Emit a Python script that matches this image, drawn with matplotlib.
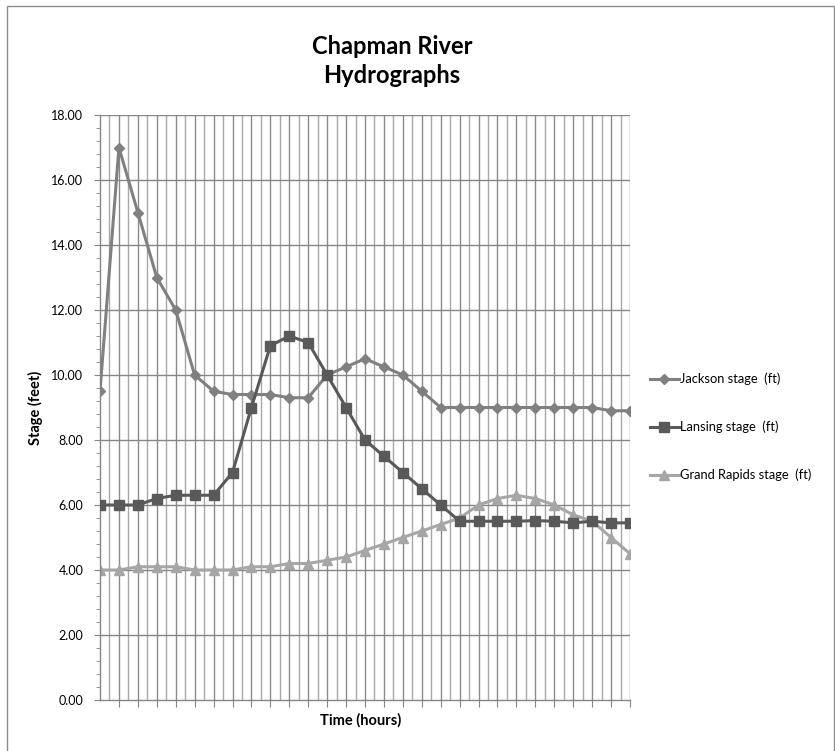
import matplotlib
matplotlib.use("Agg")
import matplotlib.pyplot as plt
from matplotlib.patches import Rectangle

# -------- DATA -------- #
hours = list(range(29))
jackson = [9.5, 17.0, 15.0, 13.0, 12.0, 10.0, 9.5, 9.4, 9.4, 9.4, 9.3, 9.3, 10.0, 10.25, 10.5,
           10.25, 10.0, 9.5, 9.0, 9.0, 9.0, 9.0, 9.0, 9.0, 9.0, 9.0, 9.0, 8.9, 8.9]
lansing = [6.0, 6.0, 6.0, 6.2, 6.3, 6.3, 6.3, 7.0, 9.0, 10.9, 11.2, 11.0, 10.0, 9.0, 8.0,
           7.5, 7.0, 6.5, 6.0, 5.5, 5.5, 5.5, 5.5, 5.52, 5.5, 5.45, 5.5, 5.45, 5.45]
grand_rapids = [4.0, 4.0, 4.1, 4.1, 4.1, 4.0, 4.0, 4.0, 4.1, 4.1, 4.2, 4.2, 4.3, 4.4, 4.6,
                4.8, 5.0, 5.2, 5.4, 5.6, 6.0, 6.2, 6.3, 6.2, 6.0, 5.7, 5.5, 5.0, 4.5]
labels = ["Jackson stage  (ft)", "Lansing stage  (ft)", "Grand Rapids stage  (ft)"]
y_ticks = [0, 2, 4, 6, 8, 10, 12, 14, 16, 18]

plt.rcParams['font.family'] = ['Lato', 'DejaVu Sans']

W, H = 835, 751
fig = plt.figure(figsize=(W / 100, H / 100), dpi=100)

# outer chart border
fig.patches.append(Rectangle((7 / W, -0.05), (834 - 7) / W, 1.05 - 6 / H,
                             transform=fig.transFigure, fill=False,
                             edgecolor="#8c8c8c", linewidth=1.0))

ax = fig.add_axes([100 / W, (H - 700) / H, (630 - 100) / W, (700 - 115) / H])

# -------- GRID -------- #
for i in range(1, 57):
    x = i * 0.5
    ax.axvline(x, color="#8a8a8a" if i % 2 == 0 else "#a8a8a8", linewidth=1.0, zorder=0)
for y in y_ticks[1:]:
    ax.axhline(y, color="#868686", linewidth=1.0, zorder=0)

# -------- SERIES -------- #
ax.plot(hours, jackson, color="#808080", linewidth=2.2, marker="D", markersize=5.5,
        label=labels[0], zorder=3)
ax.plot(hours, lansing, color="#595959", linewidth=2.2, marker="s", markersize=7.5,
        label=labels[1], zorder=4)
ax.plot(hours, grand_rapids, color="#a6a6a6", linewidth=2.2, marker="^", markersize=7,
        label=labels[2], zorder=2)

ax.set_xlim(0, 28)
ax.set_ylim(0, 18)

ax.set_yticks(y_ticks)
ax.set_yticklabels([f"{v:.2f}" for v in y_ticks], fontsize=9)
ax.set_yticks([v * 0.4 for v in range(46)], minor=True)
ax.set_xticks(hours[1:])
ax.set_xticklabels([])

ax.tick_params(axis="y", which="major", length=4, color="#868686", direction="out", pad=8)
ax.tick_params(axis="y", which="minor", length=3, color="#868686", direction="out")
ax.tick_params(axis="x", which="major", length=5, color="#868686", direction="out")

for side in ["top", "right"]:
    ax.spines[side].set_visible(False)
for side in ["left", "bottom"]:
    ax.spines[side].set_color("#868686")
    ax.spines[side].set_linewidth(1.0)

# -------- TEXT -------- #
fig.text(392 / W, 1 - 61 / H, "Chapman River\nHydrographs", ha="center", va="center",
         fontsize=17, fontweight="bold", linespacing=1.3)
fig.text(35 / W, 1 - 408 / H, "Stage (feet)", rotation=90, ha="center", va="center",
         fontsize=10.5, fontweight="bold")
fig.text(361 / W, 1 - 720 / H, "Time (hours)", ha="center", va="center",
         fontsize=10.5, fontweight="bold")

fig.legend(loc="center left", bbox_to_anchor=(645 / W, 1 - 427 / H), frameon=False,
           fontsize=9.3, handlelength=2.2, handletextpad=0.1, labelspacing=2.75,
           borderaxespad=0)

fig.savefig("out.png", dpi=100, facecolor="white")
